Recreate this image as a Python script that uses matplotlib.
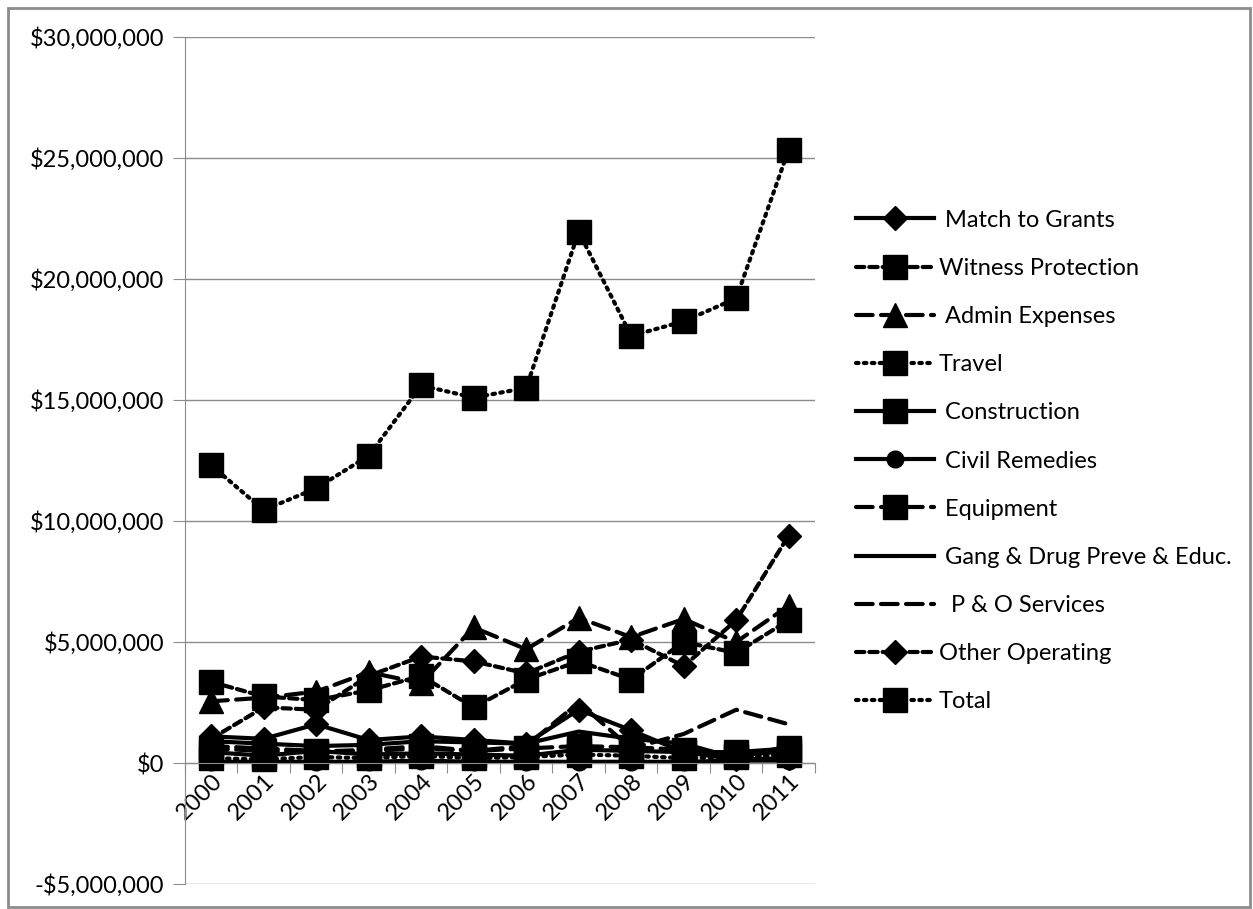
import matplotlib.pyplot as plt
import matplotlib.ticker as mticker
from matplotlib.patches import Rectangle
import numpy as np

plt.rcParams['font.family'] = ['Lato', 'DejaVu Sans']

years = ['2000', '2001', '2002', '2003', '2004', '2005',
         '2006', '2007', '2008', '2009', '2010', '2011']

# values in dollars (millions)
match_to_grants = [1.1, 1.0, 1.6, 0.95, 1.1, 0.95, 0.8, 2.2, 1.35, 0.45, 0.15, 0.2]
witness_protection = [3.35, 2.75, 2.6, 3.0, 3.6, 2.3, 3.45, 4.2, 3.45, 5.0, 4.55, 5.9]
admin_expenses = [2.55, 2.7, 2.95, 3.75, 3.3, 5.6, 4.7, 6.0, 5.2, 5.95, 5.0, 6.5]
travel = [0.2, 0.15, 0.25, 0.2, 0.3, 0.2, 0.25, 0.35, 0.3, 0.2, 0.25, 0.35]
construction = [0.45, 0.3, 0.5, 0.35, 0.4, 0.35, 0.3, 0.55, 0.5, 0.45, 0.45, 0.6]
civil_remedies = [0.05, 0.05, 0.05, 0.05, 0.1, 0.05, 0.05, 0.05, 0.05, 0.05, 0.1, 0.1]
equipment = [0.6, 0.5, 0.45, 0.55, 0.7, 0.5, 0.6, 0.7, 0.65, 0.55, 0.3, 0.5]
gang_drug = [0.9, 0.8, 0.7, 0.75, 0.9, 0.85, 0.8, 1.3, 1.0, 0.8, 0.2, 0.7]
po_services = [0.7, 0.6, 0.5, 0.5, 0.6, 0.5, 0.7, 2.5, 0.6, 1.2, 2.2, 1.6]
other_operating = [1.0, 2.3, 2.2, 3.6, 4.4, 4.2, 3.7, 4.6, 5.1, 4.0, 5.9, 9.4]
total = [12.3, 10.45, 11.35, 12.7, 15.6, 15.1, 15.5, 21.95, 17.65, 18.25, 19.2, 25.35]

series = [
    (' Match to Grants', match_to_grants, '-', 'D', 12),
    ('Witness Protection', witness_protection, (0, (2, 1.2)), 's', 17),
    (' Admin Expenses', admin_expenses, (0, (4, 2)), '^', 17),
    ('Travel', travel, (0, (0.6, 1.3)), 's', 17),
    (' Construction', construction, '-', 's', 17),
    (' Civil Remedies', civil_remedies, '-', 'o', 12),
    (' Equipment', equipment, (0, (4, 2)), 's', 17),
    (' Gang & Drug Preve & Educ.', gang_drug, '-', None, 0),
    ('  P & O Services', po_services, (0, (4, 2)), None, 0),
    ('Other Operating', other_operating, (0, (2, 1.2)), 'D', 12),
    ('Total', total, (0, (0.6, 1.3)), 's', 17),
]

fig = plt.figure(figsize=(12.53, 9.09), dpi=100)
ax = fig.add_axes([0.1476, 0.0275, 0.5028, 0.9318])

x = np.arange(len(years))
for name, vals, ls, mk, ms in series:
    ax.plot(x, np.array(vals) * 1e6, color='black', linestyle=ls, linewidth=3,
            marker=mk, markersize=ms, label=name, dash_capstyle='round')

ax.set_ylim(-5e6, 30e6)
ax.set_xlim(-0.5, 11.5)
ax.yaxis.set_major_locator(mticker.MultipleLocator(5e6))
ax.yaxis.set_major_formatter(mticker.FuncFormatter(
    lambda v, p: ('-$%s' % format(int(-v), ',')) if v < 0 else ('$%s' % format(int(v), ','))))
ax.grid(axis='y', color='#8c8c8c', linewidth=1)
ax.set_axisbelow(True)

for s in ['top', 'right']:
    ax.spines[s].set_visible(False)
ax.spines['left'].set_color('#8c8c8c')
ax.spines['bottom'].set_position(('data', 0))
ax.spines['bottom'].set_color('#8c8c8c')

ax.set_xticks(np.arange(-0.5, 12, 1))
ax.set_xticklabels([])
ax.tick_params(axis='x', which='major', length=7, color='#8c8c8c', direction='out')
ax.set_xticks(x, minor=True)
ax.set_xticklabels(years, minor=True, rotation=45, ha='right', va='top',
                   rotation_mode='anchor', fontsize=17)
ax.tick_params(axis='x', which='minor', length=0, pad=5)
ax.tick_params(axis='y', length=9, color='#8c8c8c', labelsize=17, pad=6)

ax.legend(loc='center left', bbox_to_anchor=(1.05, 0.4994), frameon=False,
          fontsize=17, handlelength=3.3, labelspacing=1.15, numpoints=1,
          handletextpad=0.2, borderaxespad=0)

fig.patches.append(Rectangle((0.006, 0.002), 0.992, 0.989, transform=fig.transFigure,
                             fill=False, edgecolor='#8c8c8c', linewidth=2))

fig.savefig('out.png', dpi=100)
